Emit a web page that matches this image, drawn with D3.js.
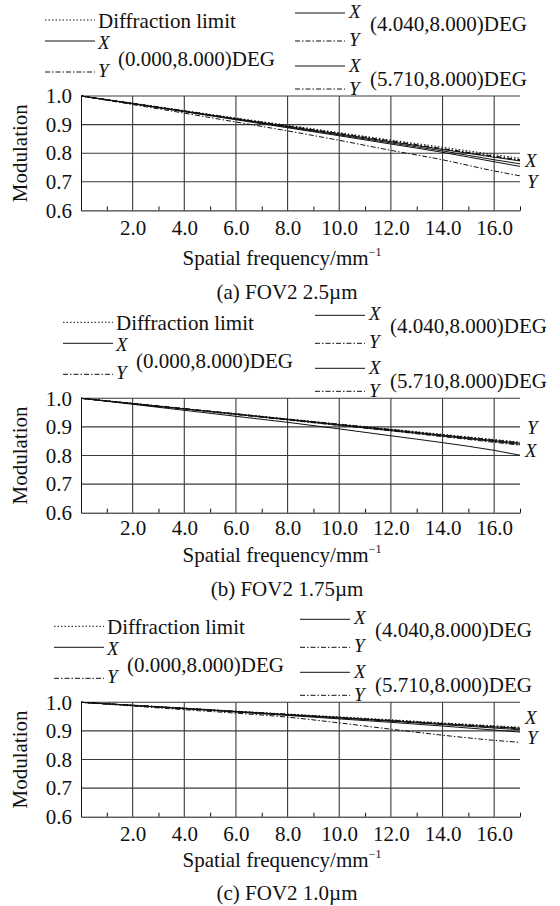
<!DOCTYPE html>
<html><head><meta charset="utf-8">
<script src="https://cdn.jsdelivr.net/npm/d3@7"></script>
<style>
body{margin:0;background:#fff}
text{font-family:"Liberation Serif","Times New Roman",serif;fill:#111}
</style>
</head><body><svg id="c" width="560" height="906" style="background:#fff"></svg>
<script>
// ---- data ----
const freq = [0, 2, 4, 6, 8, 10, 12, 14, 16, 17];
const xTicks = [2, 4, 6, 8, 10, 12, 14, 16];
const minorTicks = [1, 3, 5, 7, 9, 11, 13, 15, 17];
const yTicks = [0.6, 0.7, 0.8, 0.9, 1.0];
const fieldLabels = ["(0.000,8.000)DEG", "(4.040,8.000)DEG", "(5.710,8.000)DEG"];
const captions = ["(a) FOV2 2.5\u00b5m", "(b) FOV2 1.75\u00b5m", "(c) FOV2 1.0\u00b5m"];

// (a) 2.5um
const diffA = [1.000, 0.975, 0.949, 0.923, 0.898, 0.872, 0.846, 0.821, 0.795, 0.782];
const x0A   = [1.000, 0.974, 0.947, 0.920, 0.894, 0.867, 0.840, 0.813, 0.786, 0.773];
const y0A   = [1.000, 0.974, 0.948, 0.921, 0.895, 0.869, 0.843, 0.816, 0.790, 0.777];
const x4A   = [1.000, 0.973, 0.946, 0.919, 0.891, 0.864, 0.836, 0.808, 0.777, 0.763];
const y4A   = [1.000, 0.974, 0.947, 0.921, 0.894, 0.868, 0.841, 0.815, 0.788, 0.775];
const x5A   = [1.000, 0.973, 0.945, 0.917, 0.889, 0.861, 0.832, 0.803, 0.770, 0.754];
const y5A   = [1.000, 0.970, 0.940, 0.909, 0.878, 0.845, 0.810, 0.777, 0.738, 0.721];
// (b) 1.75um
const diffB = [1.000, 0.982, 0.964, 0.946, 0.928, 0.910, 0.892, 0.874, 0.856, 0.847];
const x0B   = [1.000, 0.982, 0.963, 0.945, 0.927, 0.908, 0.890, 0.871, 0.852, 0.843];
const y0B   = [1.000, 0.982, 0.964, 0.946, 0.927, 0.909, 0.891, 0.872, 0.854, 0.845];
const x4B   = [1.000, 0.981, 0.963, 0.944, 0.925, 0.906, 0.887, 0.868, 0.849, 0.839];
const y4B   = [1.000, 0.982, 0.963, 0.945, 0.926, 0.908, 0.889, 0.871, 0.852, 0.842];
const x5B   = [1.000, 0.979, 0.958, 0.937, 0.916, 0.893, 0.869, 0.845, 0.818, 0.801];
const y5B   = [1.000, 0.981, 0.962, 0.943, 0.924, 0.905, 0.886, 0.866, 0.846, 0.836];
// (c) 1.0um
const diffC = [1.000, 0.990, 0.980, 0.969, 0.959, 0.949, 0.939, 0.928, 0.918, 0.913];
const x0C   = [1.000, 0.989, 0.979, 0.968, 0.957, 0.947, 0.936, 0.925, 0.914, 0.909];
const y0C   = [1.000, 0.990, 0.979, 0.968, 0.958, 0.947, 0.937, 0.926, 0.916, 0.910];
const x4C   = [1.000, 0.989, 0.978, 0.967, 0.956, 0.945, 0.934, 0.922, 0.910, 0.904];
const y4C   = [1.000, 0.989, 0.979, 0.968, 0.957, 0.946, 0.935, 0.924, 0.913, 0.907];
const x5C   = [1.000, 0.989, 0.978, 0.966, 0.954, 0.942, 0.930, 0.917, 0.903, 0.896];
const y5C   = [1.000, 0.987, 0.974, 0.962, 0.948, 0.928, 0.906, 0.885, 0.867, 0.860];

// ---- layout / styles ----
const DOT = "1.5,2", DASHDOT = "5,2,1.5,2";
const seriesDash = [DOT, null, DASHDOT, null, DASHDOT, null, DASHDOT];
const plotL = 81, plotR = 520, plotH = 114.4;
const FS = 21, FSI = 19;
const panels = [
  {top: 96,    series: [diffA, x0A, y0A, x4A, y4A, x5A, y5A], cap: captions[0], lx: 45, rx: 295,
   tickPad: 10, titleDy: 55, capDy: 89, ends: [["X", 0.753], ["Y", 0.677]]},
  {top: 398.3, series: [diffB, x0B, y0B, x4B, y4B, x5B, y5B], cap: captions[1], lx: 63, rx: 315,
   tickPad: 7, titleDy: 49, capDy: 83, ends: [["Y", 0.874], ["X", 0.795]]},
  {top: 702.3, series: [diffC, x0C, y0C, x4C, y4C, x5C, y5C], cap: captions[2], lx: 54, rx: 300,
   tickPad: 9, titleDy: 50, capDy: 83, ends: [["X", 0.925], ["Y", 0.855]]}
];

const svg = d3.select("#c");

function legLine(g, x1, x2, yy, dash) {
  g.append("line").attr("x1", x1).attr("x2", x2).attr("y1", yy).attr("y2", yy)
    .attr("stroke", "#111").attr("stroke-width", 1)
    .attr("stroke-dasharray", dash);
}
function txt(g, x, yy, s, italic, anchor) {
  return g.append("text").attr("x", x).attr("y", yy).attr("font-size", italic ? FSI : FS)
    .attr("font-style", italic ? "italic" : null)
    .attr("text-anchor", anchor || "start").text(s);
}

panels.forEach(p => {
  const g = svg.append("g");
  const T = p.top, B = T + plotH;
  const x = d3.scaleLinear().domain([0, 17]).range([plotL, plotR]);
  const y = d3.scaleLinear().domain([0.6, 1.0]).range([B, T]);

  // grid
  g.append("g").selectAll("line").data(xTicks).join("line")
    .attr("x1", d => x(d)).attr("x2", d => x(d)).attr("y1", y(0.6)).attr("y2", y(1.0))
    .attr("stroke", "#3a3a3a").attr("stroke-width", 1.1);
  g.append("g").selectAll("line").data(yTicks.filter(v => v > 0.6)).join("line")
    .attr("x1", x(0)).attr("x2", x(17)).attr("y1", d => y(d)).attr("y2", d => y(d))
    .attr("stroke", "#3a3a3a").attr("stroke-width", 1.1);

  // axes
  const ax = g.append("g").attr("transform", `translate(0,${B})`)
    .call(d3.axisBottom(x).tickValues(xTicks).tickSize(0).tickSizeOuter(0).tickPadding(p.tickPad).tickFormat(d3.format(".1f")));
  ax.selectAll("text").attr("font-size", FS).attr("font-family", null);
  ax.select(".domain").attr("stroke", "#111");
  const mx = g.append("g").attr("transform", `translate(0,${B})`)
    .call(d3.axisBottom(x).tickValues(minorTicks).tickSize(-4).tickSizeOuter(0).tickFormat(""));
  mx.select(".domain").remove();
  mx.selectAll("line").attr("stroke", "#111");
  const ay = g.append("g").attr("transform", `translate(${plotL},0)`)
    .call(d3.axisLeft(y).tickValues(yTicks).tickSize(0).tickSizeOuter(0).tickPadding(9).tickFormat(d3.format(".1f")));
  ay.selectAll("text").attr("font-size", FS).attr("font-family", null);
  ay.select(".domain").attr("stroke", "#111");

  // curves
  const line = d3.line().x((d, i) => x(freq[i])).y(d => y(d)).curve(d3.curveMonotoneX);
  p.series.forEach((s, i) => {
    g.append("path").attr("d", line(s)).attr("fill", "none")
      .attr("stroke", "#111").attr("stroke-width", 1)
      .attr("stroke-dasharray", seriesDash[i]);
  });

  // end labels
  p.ends.forEach(([lab, v]) => txt(g, lab === "X" ? 525 : 527, y(v), lab, true));

  // axis titles
  g.append("text").attr("transform", `translate(27,${T + plotH / 2}) rotate(-90)`)
    .attr("text-anchor", "middle").attr("font-size", FS).text("Modulation");
  const xt = g.append("text").attr("x", 282).attr("y", B + p.titleDy).attr("text-anchor", "middle").attr("font-size", FS);
  xt.append("tspan").text("Spatial frequency/mm");
  xt.append("tspan").attr("font-size", 12).attr("dy", -9).text("\u22121");
  txt(g, 287, B + p.capDy, p.cap, false, "middle");

  // legend
  const L = p.lx, R = p.rx;
  legLine(g, L, L + 50, T - 76, DOT);
  txt(g, L + 53, T - 68, "Diffraction limit");
  legLine(g, L, L + 50, T - 55, null);
  txt(g, L + 53, T - 47, "X", true);
  txt(g, L + 73, T - 30, fieldLabels[0]);
  legLine(g, L, L + 50, T - 24, DASHDOT);
  txt(g, L + 53, T - 19, "Y", true);

  legLine(g, R, R + 50, T - 83, null);
  txt(g, R + 54, T - 78, "X", true);
  txt(g, R + 75, T - 65, fieldLabels[1]);
  legLine(g, R, R + 50, T - 55, DASHDOT);
  txt(g, R + 54, T - 50, "Y", true);
  legLine(g, R, R + 50, T - 30, null);
  txt(g, R + 54, T - 24, "X", true);
  txt(g, R + 75, T - 10, fieldLabels[2]);
  legLine(g, R, R + 50, T - 7, DASHDOT);
  txt(g, R + 54, T - 1, "Y", true);
});
</script>
</body></html>
